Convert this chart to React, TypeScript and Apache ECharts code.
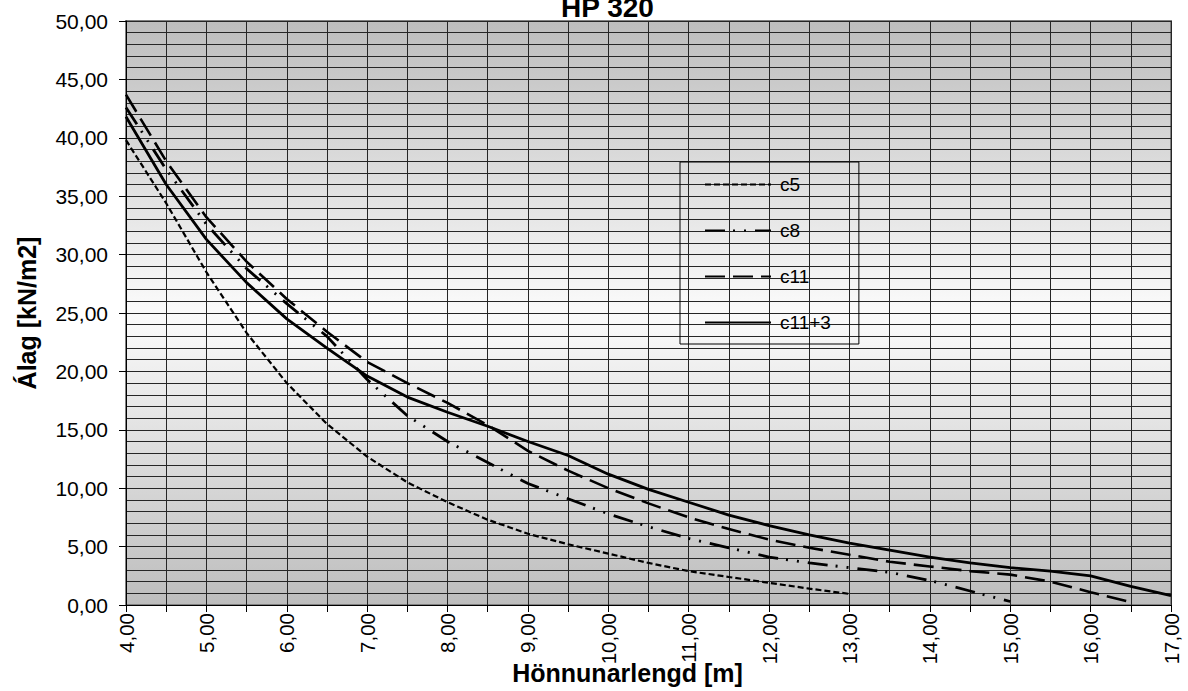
import React, { useEffect, useRef } from "react";
import * as echarts from "echarts";

const titleText = "HP 320";
const xName = "Hönnunarlengd [m]";
const yName = "Álag [kN/m2]";
const seriesNames = ["c5", "c8", "c11", "c11+3"];

const lengthM = [4, 4.5, 5, 5.5, 6, 6.5, 7, 7.5, 8, 8.5, 9, 9.5, 10, 10.5, 11, 11.5, 12, 12.5, 13, 13.5, 14, 14.5, 15, 15.5, 16, 16.5, 17];

const c5 = [39.8, 34.4, 28.5, 23.3, 19.0, 15.5, 12.7, 10.5, 8.8, 7.3, 6.1, 5.2, 4.4, 3.6, 2.9, 2.4, 1.9, 1.4, 0.95];
const c8 = [42.6, 37.3, 32.6, 28.8, 25.8, 23.0, 19.3, 16.2, 14.0, 12.2, 10.4, 9.1, 7.8, 6.7, 5.7, 4.9, 4.1, 3.6, 3.2, 2.8, 2.1, 1.2, 0.3];
const c11 = [43.7, 38.0, 33.2, 29.4, 26.2, 23.4, 20.8, 19.0, 17.3, 15.4, 13.2, 11.5, 10.0, 8.7, 7.5, 6.5, 5.6, 4.9, 4.3, 3.7, 3.3, 2.9, 2.6, 2.0, 1.1, 0.25];
const c11p3 = [41.8, 36.0, 31.3, 27.6, 24.5, 22.0, 19.6, 17.8, 16.5, 15.3, 14.0, 12.8, 11.2, 9.9, 8.8, 7.7, 6.8, 6.0, 5.3, 4.7, 4.1, 3.6, 3.2, 2.9, 2.5, 1.6, 0.8];

const FONT = 'Arial, "Liberation Sans", sans-serif';

function pairs(ys: number[]) {
  return ys.map((y, i) => [lengthM[i], y]);
}

function fmt(v: number) {
  return v.toFixed(2).replace(".", ",");
}

export default function App() {
  const ref = useRef<HTMLDivElement>(null);
  useEffect(() => {
    if (!ref.current) return;
    const chart = echarts.init(ref.current, undefined, { renderer: "svg" });
    const gridLine = { color: "#262626", width: 1 };
    const styles = [
      { width: 2.2, type: [6, 3] },
      { width: 2.8, type: [20, 8, 2, 9, 2, 9] },
      { width: 2.6, type: [20, 8] },
      { width: 2.8, type: "solid" },
    ];
    const datasets = [c5, c8, c11, c11p3];
    chart.setOption({
      animation: false,
      backgroundColor: "#ffffff",
      title: {
        text: titleText,
        left: 561,
        top: -7,
        padding: 0,
        textStyle: { fontFamily: FONT, fontSize: 28, fontWeight: "bold", color: "#000" },
      },
      legend: {
        orient: "vertical",
        left: 680,
        top: 162,
        padding: [13, 28, 12, 24],
        itemWidth: 66,
        itemHeight: 14,
        itemGap: 27,
        borderColor: "#000",
        borderWidth: 1,
        backgroundColor: "transparent",
        itemStyle: { opacity: 0 },
        textStyle: { fontFamily: FONT, fontSize: 19, color: "#000", padding: [0, 0, 0, 4] },
        data: seriesNames,
      },
      grid: {
        left: 126,
        right: 17,
        top: 21,
        bottom: 86,
        containLabel: false,
        outerBoundsMode: "none",
        show: true,
        borderColor: "#808080",
        borderWidth: 2,
        backgroundColor: new echarts.graphic.LinearGradient(0, 0, 0, 1, [
          { offset: 0, color: "#bdbdbd" },
          { offset: 0.5, color: "#fbfbfb" },
          { offset: 1, color: "#bdbdbd" },
        ]),
      },
      xAxis: {
        type: "value",
        min: 4,
        max: 17,
        interval: 0.5,
        name: xName,
        nameLocation: "middle",
        nameGap: 55,
        nameMoveOverlap: false,
        nameTextStyle: { fontFamily: FONT, fontSize: 25, fontWeight: "bold", color: "#000", padding: [0, 42, 0, 0] },
        axisLine: { show: true, onZero: false, lineStyle: { color: "#000", width: 1 } },
        axisTick: { show: true, length: 7, lineStyle: { color: "#000" } },
        axisLabel: {
          rotate: 90,
          margin: 8,
          fontFamily: FONT,
          fontSize: 20.5,
          color: "#000",
          showMinLabel: true,
          showMaxLabel: true,
          formatter: (v: number) => (Math.abs(v - Math.round(v)) < 1e-9 ? fmt(v) : ""),
        },
        splitLine: { show: true, lineStyle: gridLine },
      },
      yAxis: {
        type: "value",
        min: 0,
        max: 50,
        interval: 5,
        name: yName,
        nameLocation: "middle",
        nameGap: 87,
        nameMoveOverlap: false,
        nameTextStyle: { fontFamily: FONT, fontSize: 25, fontWeight: "bold", color: "#000" },
        axisLine: { show: true, lineStyle: { color: "#000", width: 1 } },
        axisTick: { show: true, length: 7, lineStyle: { color: "#000" } },
        axisLabel: { margin: 18, fontFamily: FONT, fontSize: 21, color: "#000", formatter: (v: number) => fmt(v) },
        splitLine: { show: true, lineStyle: gridLine },
        minorTick: { show: false, splitNumber: 5 },
        minorSplitLine: { show: true, lineStyle: gridLine },
      },
      series: seriesNames.map((name, i) => ({
        name,
        type: "line",
        symbol: "none",
        showSymbol: false,
        data: pairs(datasets[i]),
        lineStyle: { color: "#000", width: styles[i].width, type: styles[i].type },
        itemStyle: { color: "#000" },
      })),
    });
    return () => chart.dispose();
  }, []);
  return <div ref={ref} style={{ position: "fixed", left: 0, top: 0, width: 1188, height: 691 }} />;
}
